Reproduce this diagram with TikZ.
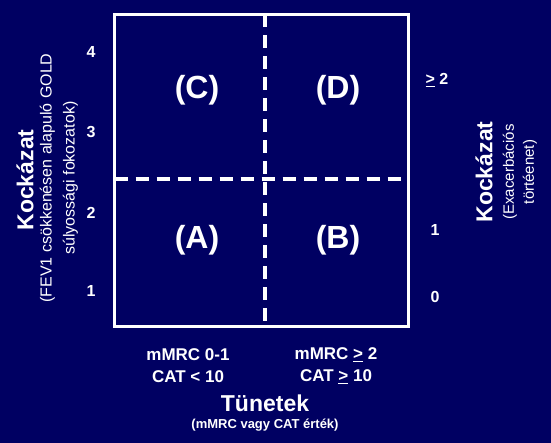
\documentclass[tikz,border=0pt]{standalone}
\usepackage{fontspec}
\setmainfont{Liberation Sans}
\usepackage{tikz}
\usetikzlibrary{positioning, calc}

\begin{document}
\begin{tikzpicture}[x=1pt, y=-1pt,
    lbl/.style={text=white, font=\bfseries\fontsize{16}{19}\selectfont},
    quad/.style={text=white, font=\bfseries\fontsize{32}{38}\selectfont},
    axisname/.style={text=white, font=\bfseries\fontsize{23}{27}\selectfont},
    divider/.style={draw=white, line width=3.5pt, dash pattern=on 13pt off 8pt}]
  % Colours of the slide
  \definecolor{slidebg}{RGB}{0,0,98}

  % Background and frame of the page
  \fill[slidebg] (0,0) rectangle (551,443);
  \useasboundingbox (0,0) rectangle (551,443);

  % The grid with its two dividers
  \node[draw=white, line width=3pt, minimum width=294pt, minimum height=312pt, inner sep=0pt] (grid) at (261.5,170.5) {};
  \coordinate (vtop) at (265,14.5);
  \coordinate (vbot) at (265,326.5);
  \coordinate (hleft) at (114.5,179);
  \coordinate (hright) at (408.5,179);
  \draw[divider] (vtop) -- (vbot);
  \draw[divider] (hleft) -- (hright);

  % Quadrant labels
  \node[quad] (qc) at (197,90) {(C)};
  \node[quad] (qd) at (338,90) {(D)};
  \node[quad] (qa) at (197,240) {(A)};
  \node[quad] (qb) at (338,240) {(B)};

  % Left scale
  \node[lbl] (g4) at (91,52) {4};
  \node[lbl] (g3) at (91,132) {3};
  \node[lbl] (g2) at (91,213) {2};
  \node[lbl] (g1) at (91,291) {1};

  % Right scale
  \node[lbl] (e2) at (437,80) {\underline{>} 2};
  \node[lbl] (e1) at (435,230) {1};
  \node[lbl] (e0) at (435,297) {0};

  % Left axis title
  \node[axisname, rotate=90] (riskL) at (25,180) {Kockázat};
  \node[text=white, rotate=90, align=center, font=\fontsize{16}{23}\selectfont] (riskLsub) at (59,178) {(FEV1 csökkenésen alapuló GOLD\\súlyossági fokozatok)};

  % Right axis title
  \node[axisname, rotate=90] (riskR) at (484,172) {Kockázat};
  \node[text=white, rotate=90, align=center, font=\fontsize{15}{20}\selectfont] (riskRsub) at (520,172) {(Exacerbációs\\törtéenet)};

  % Bottom axis
  \node[lbl, align=center, font=\bfseries\fontsize{17}{22}\selectfont] (symlow) at (188,366) {mMRC 0-1\\CAT < 10};
  \node[lbl, align=center, font=\bfseries\fontsize{17}{22}\selectfont] (symhigh) at (336,366) {mMRC \underline{>} 2\\CAT \underline{>} 10};
  \node[axisname] (symp) at (265,403) {Tünetek};
  \node[text=white, font=\bfseries\fontsize{13}{16}\selectfont] (sympsub) at (265,425) {(mMRC vagy CAT érték)};
\end{tikzpicture}
\end{document}
